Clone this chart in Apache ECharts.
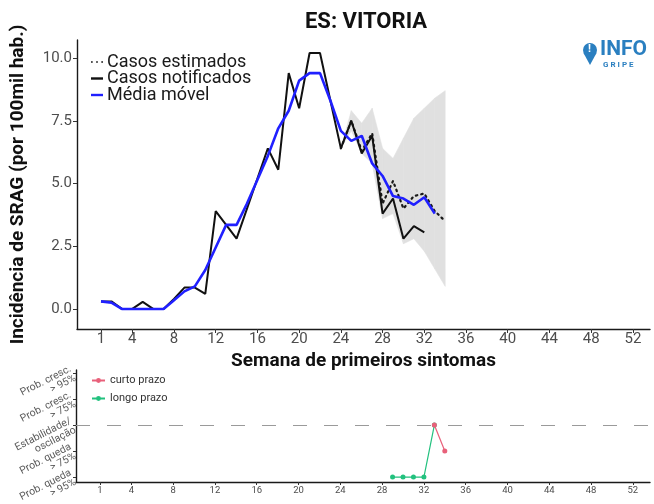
<!DOCTYPE html>
<html>
<head>
<meta charset="utf-8">
<script src="https://cdn.jsdelivr.net/npm/echarts@6/dist/echarts.min.js"></script>
<style>
html,body{margin:0;padding:0;background:#fff;}
#chart{width:654px;height:504px;}
</style>
</head>
<body>
<div id="chart"></div>
<script>
// ---- data ----
const weeks = [1,2,3,4,5,6,7,8,9,10,11,12,13,14,15,16,17,18,19,20,21,22,23,24,25,26,27,28,29,30,31,32,33,34];
const notified = [0.3,0.3,0.0,0.0,0.28,0.0,0.0,0.4,0.85,0.85,0.6,3.9,3.35,2.8,4.0,5.2,6.4,5.55,9.4,8.0,10.2,10.2,8.3,6.4,7.5,6.2,6.9,3.8,4.4,2.8,3.3,3.05,null,null];
const movingAvg = [0.3,0.25,0.0,0.0,0.0,0.0,0.0,0.35,0.7,0.9,1.55,2.45,3.35,3.35,4.2,5.15,6.1,7.2,7.9,9.1,9.4,9.4,8.3,7.1,6.7,6.9,5.8,5.3,4.5,4.4,4.15,4.45,3.8,null];
const estWeeks = [24,25,26,27,28,29,30,31,32,33,34];
const estimated = [6.4,7.5,6.3,7.0,4.2,5.1,4.0,4.5,4.6,3.9,3.5];
const estLower = [6.4,7.1,6.2,5.8,3.6,3.8,2.6,2.8,2.3,1.6,0.9];
const estUpper = [6.4,7.9,7.4,8.0,6.4,6.0,6.8,7.6,8.0,8.4,8.7];
const xTicks = [1,4,8,12,16,20,24,28,32,36,40,44,48,52];
const yTicks = [0,2.5,5,7.5,10];
const trendLevels = [1,2,3,4,5];
const trendLabels = ['Prob. queda\n> 95%','Prob. queda\n> 75%','Estabilidade/\noscilação','Prob. cresc.\n> 75%','Prob. cresc.\n> 95%'];
const shortWeeks = [33,34];
const shortLevels = [3,2];
const longWeeks = [29,30,31,32,33];
const longLevels = [1,1,1,1,3];

const pair = (xs, ys) => xs.map((x,i)=>[x, ys[i]]).filter(p=>p[1]!==null);
const bandData = estWeeks.map((w,i)=>[w, estLower[i], estUpper[i]]);

const chart = echarts.init(document.getElementById('chart'), null, {renderer:'canvas'});
const FONT = 'Roboto';
const axisLineStyle = {color:'#1a1a1a', width:1.4};
const BAND = '#e0e0e0';

function renderBand(params, api){
  const i = params.dataIndex;
  if (i >= bandData.length - 1) return null;
  const a = bandData[i], b = bandData[i+1];
  const pts = [
    api.coord([a[0], a[1]]), api.coord([b[0], b[1]]),
    api.coord([b[0], b[2]]), api.coord([a[0], a[2]])
  ];
  return {type:'polygon', shape:{points:pts}, style:{fill:BAND, stroke:BAND, lineWidth:0.6}};
}

const option = {
  backgroundColor:'#ffffff',
  animation:false,
  textStyle:{fontFamily:FONT},
  legend:[{
    data:[
      {name:'Casos estimados', icon:'path://M0,0h2v2h-2z M6,0h2v2h-2z M12,0h2v2h-2z'},
      {name:'Casos notificados', icon:'rect'},
      {name:'Média móvel', icon:'rect'}
    ],
    orient:'vertical', left:86, top:48, itemWidth:12, itemHeight:2.4, itemGap:-1.5,
    textStyle:{fontFamily:FONT, fontSize:18, color:'#1a1a1a', lineHeight:16.5, padding:[0,0,0,-1]},
    selectedMode:false
  },{
    data:['curto prazo','longo prazo'],
    orient:'vertical', left:86, top:370, itemWidth:13, itemHeight:6, itemGap:7,
    textStyle:{fontFamily:FONT, fontSize:11, color:'#333'},
    selectedMode:false
  }],
  grid:[
    {left:77, top:40, width:573, height:289, outerBoundsMode:'none', containLabel:false},
    {left:76, top:370, width:574, height:112, outerBoundsMode:'none', containLabel:false}
  ],
  xAxis:[{
    gridIndex:0, type:'value', min:-1.3, max:53.64,
    name:'Semana de primeiros sintomas', nameLocation:'middle', nameGap:11,
    nameTextStyle:{fontFamily:FONT, fontSize:19, fontWeight:'bold', color:'#111'},
    axisLine:{show:true, onZero:false, lineStyle:axisLineStyle},
    axisTick:{show:true, length:4, customValues:xTicks, lineStyle:{color:'#333'}},
    axisLabel:{customValues:xTicks, fontSize:15, color:'#4d4d4d', margin:3, fontFamily:FONT},
    splitLine:{show:false}
  },{
    gridIndex:1, type:'value', min:-1.3, max:53.64,
    axisLine:{show:true, onZero:false, lineStyle:axisLineStyle},
    axisTick:{show:true, length:3, customValues:xTicks, lineStyle:{color:'#333'}},
    axisLabel:{customValues:xTicks, fontSize:9.5, color:'#4d4d4d', margin:4, fontFamily:FONT},
    splitLine:{show:false}
  }],
  yAxis:[{
    gridIndex:0, type:'value', min:-0.8, max:10.72,
    name:'Incidência de SRAG (por 100mil hab.)', nameLocation:'middle', nameGap:49,
    nameTextStyle:{fontFamily:FONT, fontSize:19, fontWeight:'bold', color:'#111'},
    axisLine:{show:true, onZero:false, lineStyle:axisLineStyle},
    axisTick:{show:true, length:4, customValues:yTicks, lineStyle:{color:'#333'}},
    axisLabel:{customValues:yTicks, fontSize:15, color:'#4d4d4d', margin:5, fontFamily:FONT,
      formatter:v=>v.toFixed(1)},
    splitLine:{show:false}
  },{
    gridIndex:1, type:'value', min:0.81, max:5.115,
    axisLine:{show:true, onZero:false, lineStyle:axisLineStyle},
    axisTick:{show:true, length:3, customValues:trendLevels, lineStyle:{color:'#333'}},
    axisLabel:{customValues:trendLevels, fontSize:10.5, lineHeight:10.5, color:'#5a5a5a', margin:3, rotate:27, fontFamily:FONT,
      align:'right',
      formatter:v=>trendLabels[trendLevels.indexOf(Math.round(v))] || ''},
    splitLine:{show:false}
  }],
  series:[
    {name:'band', type:'custom', xAxisIndex:0, yAxisIndex:0, silent:true,
      data:bandData, renderItem:renderBand, encode:{x:0, y:[1,2]}, z:1},
    {name:'Casos estimados', type:'line', xAxisIndex:0, yAxisIndex:0,
      data:pair(estWeeks, estimated), symbol:'none', color:'#1a1a1a',
      lineStyle:{color:'#1a1a1a', width:2.2, type:[1.5,4], cap:'round'}, z:3},
    {name:'Casos notificados', type:'line', xAxisIndex:0, yAxisIndex:0,
      data:pair(weeks, notified), symbol:'none', color:'#111',
      lineStyle:{color:'#111', width:2}, z:4},
    {name:'Média móvel', type:'line', xAxisIndex:0, yAxisIndex:0,
      data:pair(weeks, movingAvg), symbol:'none', color:'#2020ff',
      lineStyle:{color:'#2020ff', width:2.6}, z:5},
    {name:'curto prazo', type:'line', xAxisIndex:1, yAxisIndex:1,
      data:pair(shortWeeks, shortLevels), symbol:'circle', symbolSize:5, color:'#e8607a',
      lineStyle:{color:'#e8607a', width:1.2}, z:4,
      markLine:{silent:true, symbol:'none', label:{show:false},
        lineStyle:{color:'#9a9a9a', type:[14,17], width:1.2},
        data:[{yAxis:3}]}},
    {name:'longo prazo', type:'line', xAxisIndex:1, yAxisIndex:1,
      data:pair(longWeeks, longLevels), symbol:'circle', symbolSize:5, color:'#22c17e',
      lineStyle:{color:'#22c17e', width:1.2}, z:3}
  ],
  graphic:[
    {type:'text', x:366, y:11, style:{text:'ES: VITORIA', align:'center', verticalAlign:'top', fill:'#111', fontSize:22, fontWeight:'bold', fontFamily:FONT}},
    {type:'circle', shape:{cx:590, cy:50, r:7}, style:{fill:'#2a7fc0'}},
    {type:'polygon', shape:{points:[[583.5,53],[596.5,53],[590,65]]}, style:{fill:'#2a7fc0'}},
    {type:'text', left:588, top:44, style:{text:'!', fill:'#fff', fontSize:11, fontWeight:'bold', fontFamily:FONT}},
    {type:'text', left:600, top:39, style:{text:'INFO', fill:'#2a7fc0', fontSize:21, fontWeight:'bold', fontFamily:FONT}},
    {type:'text', left:603, top:61, style:{text:'G R I P E', fill:'#2a7fc0', fontSize:8, fontWeight:'bold', fontFamily:FONT}}
  ]
};
chart.setOption(option);
</script>
</body>
</html>
